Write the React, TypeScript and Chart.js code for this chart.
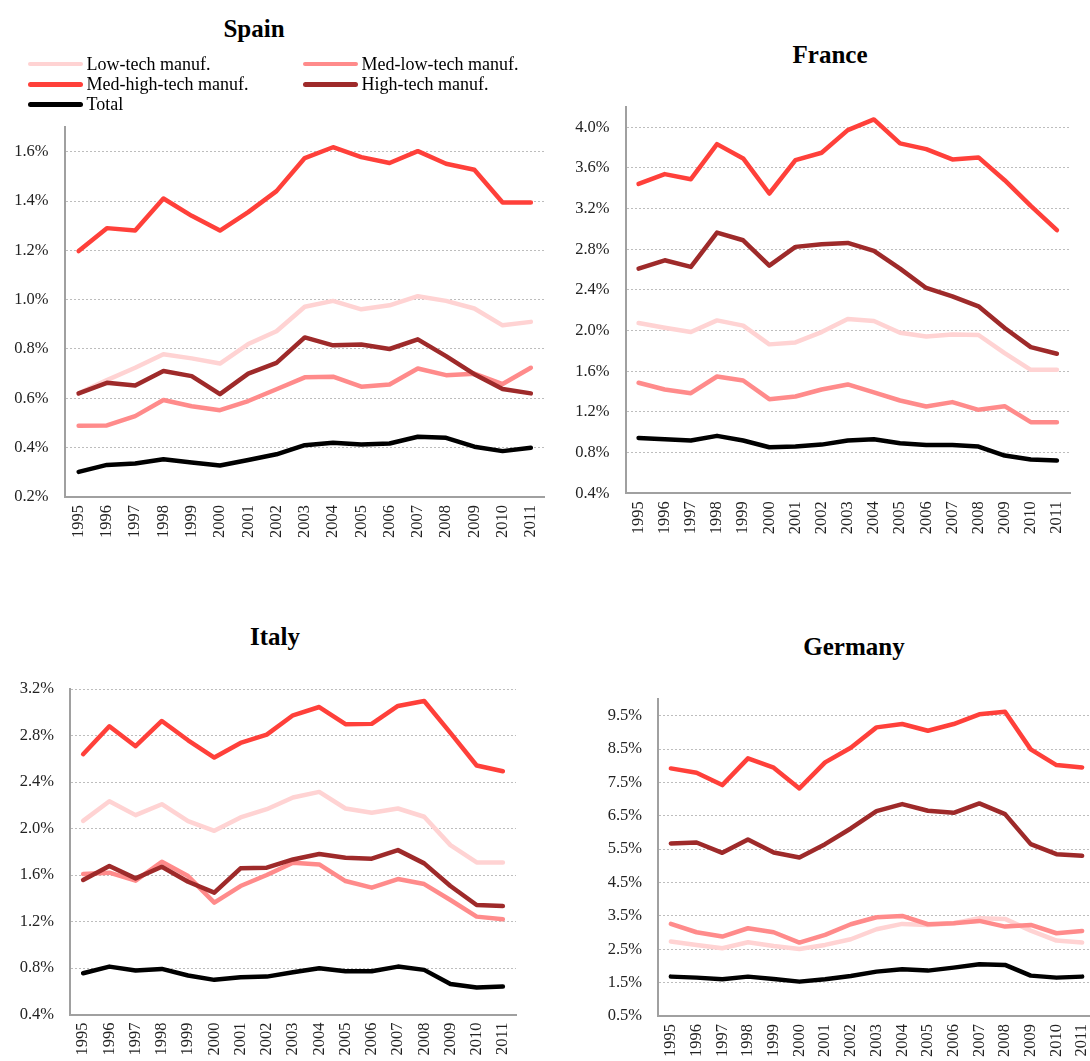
import React, { useEffect, useRef } from 'react';
import { Chart, registerables } from 'chart.js';

Chart.register(...registerables);

const YEARS = ['1995', '1996', '1997', '1998', '1999', '2000', '2001', '2002', '2003', '2004', '2005', '2006', '2007', '2008', '2009', '2010', '2011'];
const SERIES_NAMES = ['Low-tech manuf.', 'Med-low-tech manuf.', 'Med-high-tech manuf.', 'High-tech manuf.', 'Total'];
const SERIES_COLORS = ['#FFD3D3', '#FF8B8B', '#FF403A', '#9E2A2A', '#000000'];

// Spain (% values)
const spainLow = [0.62, 0.674, 0.724, 0.779, 0.762, 0.741, 0.82, 0.872, 0.971, 0.995, 0.961, 0.977, 1.014, 0.995, 0.964, 0.896, 0.91];
const spainMedLow = [0.489, 0.49, 0.528, 0.593, 0.568, 0.552, 0.589, 0.637, 0.685, 0.688, 0.647, 0.656, 0.721, 0.694, 0.70, 0.658, 0.724];
const spainMedHigh = [1.197, 1.29, 1.28, 1.41, 1.34, 1.28, 1.355, 1.44, 1.574, 1.618, 1.578, 1.554, 1.602, 1.551, 1.527, 1.394, 1.394];
const spainHigh = [0.62, 0.663, 0.652, 0.711, 0.69, 0.617, 0.70, 0.744, 0.847, 0.815, 0.818, 0.80, 0.839, 0.771, 0.698, 0.638, 0.62];
const spainTotal = [0.302, 0.33, 0.336, 0.353, 0.34, 0.328, 0.35, 0.373, 0.41, 0.42, 0.413, 0.417, 0.444, 0.44, 0.404, 0.386, 0.40];

// France
const franceLow = [2.075, 2.029, 1.986, 2.101, 2.049, 1.865, 1.884, 1.986, 2.114, 2.095, 1.98, 1.943, 1.963, 1.957, 1.779, 1.615, 1.615];
const franceMedLow = [1.487, 1.421, 1.385, 1.549, 1.51, 1.326, 1.352, 1.421, 1.471, 1.392, 1.313, 1.254, 1.297, 1.221, 1.257, 1.10, 1.10];
const franceMedHigh = [3.444, 3.54, 3.49, 3.835, 3.694, 3.349, 3.677, 3.75, 3.973, 4.078, 3.842, 3.786, 3.684, 3.704, 3.48, 3.228, 2.988];
const franceHigh = [2.61, 2.692, 2.627, 2.965, 2.889, 2.64, 2.824, 2.85, 2.863, 2.784, 2.61, 2.42, 2.338, 2.239, 2.026, 1.838, 1.773];
const franceTotal = [0.945, 0.932, 0.919, 0.965, 0.919, 0.853, 0.86, 0.879, 0.919, 0.932, 0.893, 0.876, 0.876, 0.86, 0.771, 0.732, 0.722];

// Italy
const italyLow = [2.066, 2.235, 2.115, 2.209, 2.063, 1.98, 2.095, 2.166, 2.267, 2.315, 2.172, 2.135, 2.172, 2.101, 1.857, 1.708, 1.708];
const italyMedLow = [1.608, 1.62, 1.551, 1.714, 1.591, 1.362, 1.505, 1.60, 1.706, 1.691, 1.548, 1.491, 1.565, 1.522, 1.385, 1.242, 1.219];
const italyMedHigh = [2.639, 2.879, 2.708, 2.925, 2.759, 2.61, 2.736, 2.808, 2.974, 3.045, 2.897, 2.90, 3.054, 3.097, 2.822, 2.542, 2.493];
const italyHigh = [1.557, 1.677, 1.571, 1.671, 1.542, 1.448, 1.657, 1.663, 1.734, 1.78, 1.748, 1.74, 1.814, 1.70, 1.505, 1.342, 1.333];
const italyTotal = [0.755, 0.812, 0.778, 0.792, 0.735, 0.698, 0.721, 0.726, 0.764, 0.798, 0.772, 0.772, 0.812, 0.784, 0.663, 0.632, 0.64];

// Germany
const germanyLow = [2.73, 2.63, 2.53, 2.71, 2.60, 2.51, 2.63, 2.80, 3.10, 3.26, 3.23, 3.28, 3.43, 3.41, 3.06, 2.76, 2.70];
const germanyMedLow = [3.26, 3.01, 2.88, 3.13, 3.01, 2.70, 2.93, 3.25, 3.46, 3.50, 3.25, 3.28, 3.35, 3.18, 3.23, 2.98, 3.05];
const germanyMedHigh = [7.92, 7.79, 7.42, 8.22, 7.94, 7.32, 8.10, 8.54, 9.15, 9.25, 9.05, 9.25, 9.54, 9.62, 8.49, 8.02, 7.95];
const germanyHigh = [5.67, 5.70, 5.39, 5.79, 5.40, 5.25, 5.65, 6.12, 6.64, 6.85, 6.65, 6.59, 6.87, 6.55, 5.65, 5.35, 5.30];
const germanyTotal = [1.68, 1.65, 1.60, 1.68, 1.61, 1.53, 1.60, 1.70, 1.83, 1.90, 1.86, 1.95, 2.05, 2.03, 1.71, 1.65, 1.68];

// Y tick labels
const spainTicks = [0.2, 0.4, 0.6, 0.8, 1.0, 1.2, 1.4, 1.6];
const franceTicks = [0.4, 0.8, 1.2, 1.6, 2.0, 2.4, 2.8, 3.2, 3.6, 4.0];
const italyTicks = [0.4, 0.8, 1.2, 1.6, 2.0, 2.4, 2.8, 3.2];
const germanyTicks = [0.5, 1.5, 2.5, 3.5, 4.5, 5.5, 6.5, 7.5, 8.5, 9.5];

const FONT = '"Liberation Serif", "DejaVu Serif", serif';
const TICK_SIZE = 16.5;

type PanelProps = {
  title: string;
  series: number[][];
  ticks: number[];
  min: number;
  max: number;
  box: { left: number; top: number; width: number; height: number };
  yWidth: number;
  xHeight: number;
  padTop: number;
  padRight: number;
  titleX: number;
  titleY: number;
};

function zeroPadding(scale: any) {
  scale.paddingTop = 0;
  scale.paddingBottom = 0;
  scale.paddingLeft = 0;
  scale.paddingRight = 0;
}

function Panel(p: PanelProps) {
  const ref = useRef<HTMLCanvasElement | null>(null);
  useEffect(() => {
    if (!ref.current) return;
    const datasets = p.series.map((vals, i) => ({
      label: SERIES_NAMES[i],
      data: vals,
      borderColor: SERIES_COLORS[i],
      backgroundColor: SERIES_COLORS[i],
      borderWidth: 4.5,
      pointRadius: 0,
      tension: 0,
      fill: false,
      borderCapStyle: 'round' as const,
      borderJoinStyle: 'round' as const,
      order: SERIES_NAMES.length - i,
    }));
    const chart = new Chart(ref.current, {
      type: 'line',
      data: { labels: YEARS, datasets },
      options: {
        responsive: false,
        animation: false,
        devicePixelRatio: 1,
        layout: { padding: { top: p.padTop, right: p.padRight, left: 0, bottom: 0 } },
        plugins: {
          legend: { display: false },
          title: { display: false },
          tooltip: { enabled: false },
        },
        scales: {
          x: {
            type: 'category',
            offset: true,
            grid: { display: false, drawTicks: false },
            border: { display: true, color: '#A0A0A0', width: 2 },
            ticks: {
              autoSkip: false,
              minRotation: 90,
              maxRotation: 90,
              padding: 8,
              color: '#222',
              font: { family: FONT, size: TICK_SIZE },
            },
            afterFit: (scale: any) => {
              scale.height = p.xHeight;
              zeroPadding(scale);
            },
          },
          y: {
            type: 'linear',
            min: p.min,
            max: p.max,
            grid: { display: true, drawTicks: false, color: '#BDBDBD', lineWidth: 1 },
            border: { display: true, color: '#A0A0A0', width: 2, dash: [2, 2] },
            ticks: {
              padding: 16,
              color: '#222',
              font: { family: FONT, size: TICK_SIZE },
              callback: (v: any) => Number(v).toFixed(1) + '%',
            },
            afterBuildTicks: (scale: any) => {
              scale.ticks = p.ticks.map((v) => ({ value: v }));
            },
            afterFit: (scale: any) => {
              scale.width = p.yWidth;
              zeroPadding(scale);
            },
          },
        },
      } as any,
    });
    return () => chart.destroy();
  }, []);
  return (
    <>
      <canvas
        ref={ref}
        width={p.box.width}
        height={p.box.height}
        style={{ position: 'absolute', left: p.box.left, top: p.box.top, width: p.box.width, height: p.box.height }}
      />
      <div
        style={{
          position: 'absolute',
          left: p.titleX - 100,
          width: 200,
          top: p.titleY - 15,
          height: 30,
          lineHeight: '30px',
          textAlign: 'center',
          fontFamily: FONT,
          fontWeight: 'bold',
          fontSize: 25,
          color: '#000',
        }}
      >
        {p.title}
      </div>
    </>
  );
}

function Legend() {
  return (
    <div
      style={{
        position: 'absolute',
        left: 28,
        top: 54,
        display: 'grid',
        gridTemplateColumns: '275px 275px',
        gridAutoRows: '20.3px',
        fontFamily: FONT,
        fontSize: 18,
        color: '#000',
      }}
    >
      {SERIES_NAMES.map((name, i) => (
        <div key={name} style={{ display: 'flex', alignItems: 'center', whiteSpace: 'nowrap' }}>
          <span
            style={{
              display: 'inline-block',
              width: 55,
              height: 4.5,
              borderRadius: 3,
              background: SERIES_COLORS[i],
              marginRight: 3.5,
            }}
          />
          <span>{name}</span>
        </div>
      ))}
    </div>
  );
}

export default function App() {
  return (
    <div
      style={{
        position: 'absolute',
        left: 0,
        top: 0,
        width: 1090,
        height: 1061,
        overflow: 'hidden',
        background: '#fff',
      }}
    >
      <Panel
        title="Spain"
        series={[spainLow, spainMedLow, spainMedHigh, spainHigh, spainTotal]}
        ticks={spainTicks}
        min={0.2}
        max={1.7}
        box={{ left: 0, top: 110, width: 545, height: 450 }}
        yWidth={64.5}
        xHeight={63}
        padTop={17}
        padRight={0}
        titleX={254}
        titleY={29}
      />
      <Legend />
      <Panel
        title="France"
        series={[franceLow, franceMedLow, franceMedHigh, franceHigh, franceTotal]}
        ticks={franceTicks}
        min={0.4}
        max={4.2}
        box={{ left: 545, top: 90, width: 545, height: 470 }}
        yWidth={80.5}
        xHeight={66.7}
        padTop={17}
        padRight={20}
        titleX={830}
        titleY={55}
      />
      <Panel
        title="Italy"
        series={[italyLow, italyMedLow, italyMedHigh, italyHigh, italyTotal]}
        ticks={italyTicks}
        min={0.4}
        max={3.2}
        box={{ left: 0, top: 670, width: 545, height: 391 }}
        yWidth={70}
        xHeight={46.5}
        padTop={19}
        padRight={29}
        titleX={275}
        titleY={637}
      />
      <Panel
        title="Germany"
        series={[germanyLow, germanyMedLow, germanyMedHigh, germanyHigh, germanyTotal]}
        ticks={germanyTicks}
        min={0.5}
        max={10}
        box={{ left: 545, top: 680, width: 560, height: 381 }}
        yWidth={113}
        xHeight={45}
        padTop={19}
        padRight={10}
        titleX={854}
        titleY={647}
      />
    </div>
  );
}
